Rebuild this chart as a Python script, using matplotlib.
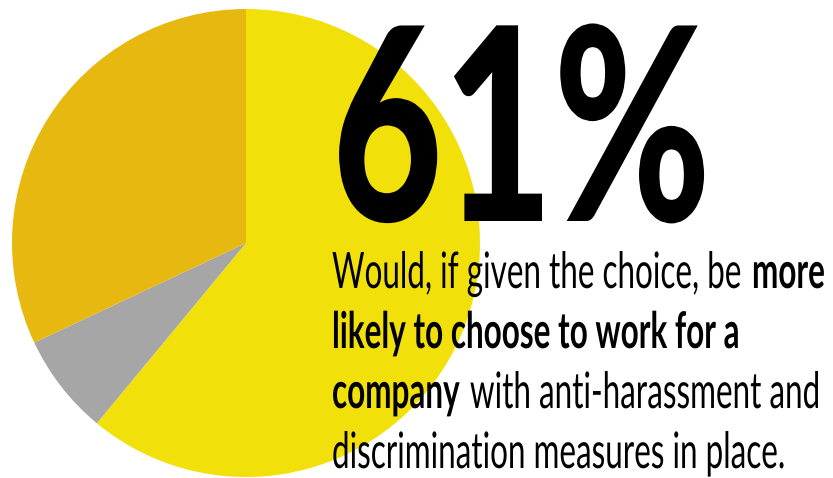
import matplotlib
matplotlib.use('Agg')
import matplotlib.pyplot as plt
from matplotlib.patheffects import AbstractPathEffect
from matplotlib.transforms import Affine2D
from matplotlib.textpath import TextPath
from matplotlib.font_manager import FontProperties

# --- data
shares = [61, 7, 32]  # yes / unsure / no, clockwise from 12 o'clock
colors = ['#F2E00A', '#A6A6A6', '#E6B810']
headline = '61%'
lines = [  # (run of text, bold?)
    [('Would, if given the choice, be', False), ('more', True)],
    [('likely to choose to work for a', True)],
    [('company', True), ('with anti-harassment and', False)],
    [('discrimination measures in place.', False)],
]

W, H, DPI = 833, 478, 100


class Stretch(AbstractPathEffect):
    """stretch text vertically about its baseline to fake a condensed face"""
    def __init__(self, ax, y0, sy):
        super().__init__()
        self.ax, self.y0, self.sy = ax, y0, sy

    def draw_path(self, renderer, gc, tpath, affine, rgbFace=None):
        yd = self.ax.transData.transform((0, self.y0))[1]
        t = affine + Affine2D().translate(0, -yd).scale(1, self.sy).translate(0, yd)
        renderer.draw_path(gc, tpath, t, rgbFace)


def ink(s, fp, size):
    # ink width / height of a string, in pixels
    e = TextPath((0, 0), s, size=size, prop=fp).get_extents()
    return e.width * DPI / 72, e.height * DPI / 72


fig = plt.figure(figsize=(W / DPI, H / DPI), dpi=DPI)
ax = fig.add_axes([0, 0, 1, 1])
ax.pie(shares, colors=colors, startangle=90, counterclock=False,
       center=(246, H - 243), radius=234, wedgeprops=dict(linewidth=0))
ax.set_xlim(0, W)
ax.set_ylim(0, H)
ax.set_aspect('equal')
ax.axis('off')

x0 = 332

# --- big number: 365 px wide, 200 px tall, baseline at y=221 from top
fp_head = FontProperties(family='Lato', weight='black')
w100, h100 = ink(headline, fp_head, 100)
size = 100 * 365 / w100
fp_head.set_size(size)
sy = 200 / (h100 * size / 100)
yb = H - 221
ax.text(x0, yb, headline, fontproperties=fp_head, ha='left', va='baseline',
        color='black', path_effects=[Stretch(ax, yb, sy)])

# --- body copy
fp_reg = FontProperties(family='Lato', weight=400)
fp_bold = FontProperties(family='Lato', weight='bold')


def gap(fp, size):
    return ink('n n', fp, size)[0] - 2 * ink('n', fp, size)[0]


def layout(line, size):
    xs, x = [], 0
    for s, b in line:
        fp = fp_bold if b else fp_reg
        xs.append(x)
        x += ink(s, fp, size)[0] + gap(fp, size)
    return xs, x - gap(fp, size)


_, w1 = layout(lines[0], 100)
bsize = 100 * 490 / w1  # first line spans 490 px
fp_reg.set_size(bsize)
fp_bold.set_size(bsize)
syb = 36 / ink('W', fp_reg, bsize)[1]  # cap height 36 px

for i, line in enumerate(lines):
    xs, _ = layout(line, bsize)
    yb = H - (288 + 60 * i)
    for (s, b), dx in zip(line, xs):
        ax.text(x0 + dx, yb, s, fontproperties=fp_bold if b else fp_reg,
                ha='left', va='baseline', color='black',
                path_effects=[Stretch(ax, yb, syb)])

fig.savefig('out.png', dpi=DPI)
